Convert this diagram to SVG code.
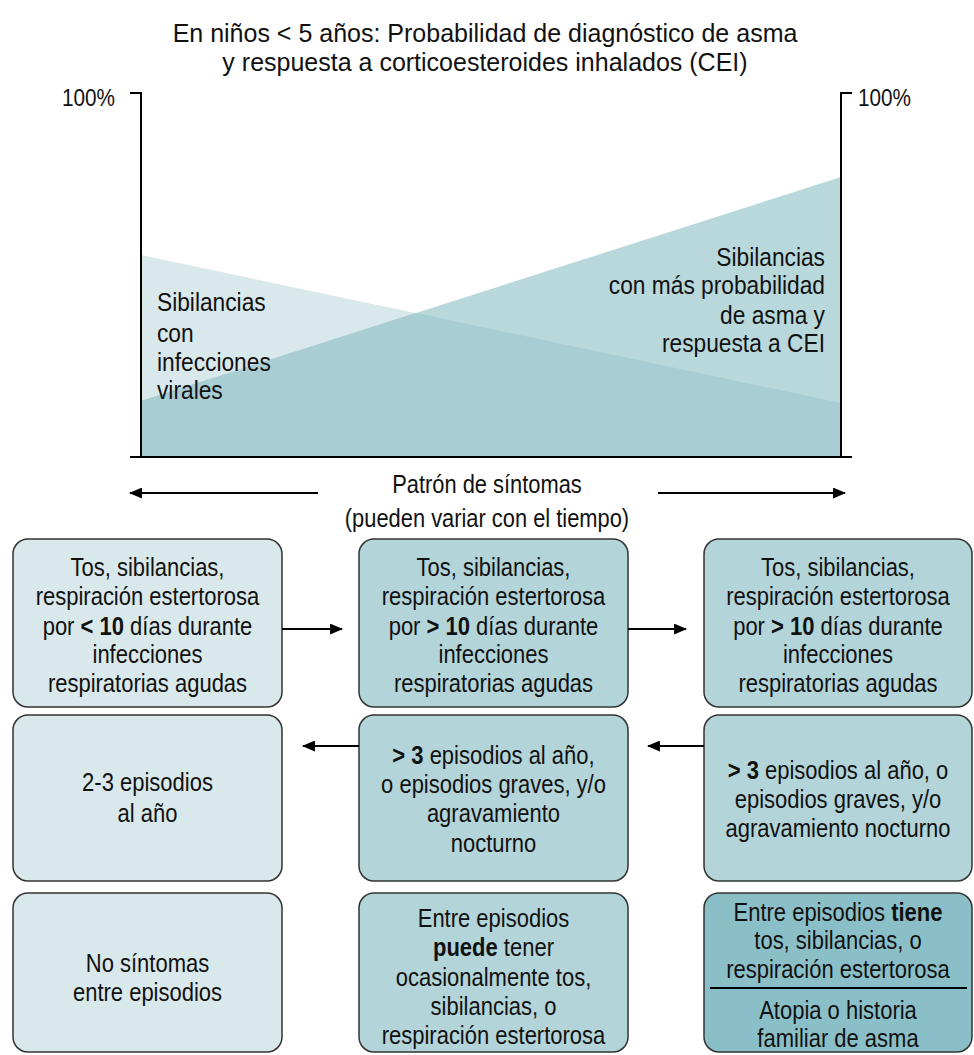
<svg xmlns="http://www.w3.org/2000/svg" width="974" height="1055" viewBox="0 0 974 1055">
<defs>
<marker id="ah" viewBox="0 0 12 10" refX="11" refY="5" markerWidth="13" markerHeight="11" markerUnits="userSpaceOnUse" orient="auto">
<path d="M0,0 L12,5 L0,10 Z" fill="#000"/>
</marker>
</defs>
<style>
text{font-family:"Liberation Sans",Arial,Helvetica,sans-serif;fill:#111;}
.tt{font-size:25px;text-anchor:middle;}
.t{font-size:25px;text-anchor:middle;}
.c{font-size:25px;}
.p{font-size:23px;}
.b{font-weight:bold;}
.box{stroke:#333;stroke-width:1.5;}
.l1{fill:#d9e8ea;}
.l2{fill:#b3d4d8;}
.l3{fill:#8bbfc8;}
.ax{stroke:#000;stroke-width:2;fill:none;}
.cn{stroke:#000;stroke-width:2;fill:none;marker-end:url(#ah);}
</style>
<rect width="974" height="1055" fill="#fff"/>
<g id="title">
<text class="tt" x="485" y="42">En niños &lt; 5 años: Probabilidad de diagnóstico de asma</text>
<text class="tt" x="485" y="71">y respuesta a corticoesteroides inhalados (CEI)</text>
</g>
<g id="chart">
<polygon points="141,255 841,403 841,457 141,457" fill="#d9e8ea"/>
<polygon points="141,401 841,177 841,457 141,457" fill="#b9d8dc"/>
<polygon points="141,457 141,401 415.7,313 841,403 841,457" fill="#a8cdd3"/>
<path class="ax" d="M130,93 H141 V457 M841,457 V93 H852 M130,457 H852"/>
<g transform="scale(0.9,1)">
<text class="p" x="68.89" y="106">100%</text>
<text class="p" x="953.33" y="106">100%</text>
</g>
<g transform="scale(0.91,1)">
<text class="c" x="172.53" y="311">Sibilancias</text>
<text class="c" x="172.53" y="342">con</text>
<text class="c" x="172.53" y="371">infecciones</text>
<text class="c" x="172.53" y="399">virales</text>
<text class="c" x="906.59" y="266" text-anchor="end">Sibilancias</text>
<text class="c" x="906.59" y="294" text-anchor="end">con más probabilidad</text>
<text class="c" x="906.59" y="324" text-anchor="end">de asma y</text>
<text class="c" x="906.59" y="352" text-anchor="end">respuesta a CEI</text>
</g>
</g>
<g id="pattern" transform="scale(0.875,1)">
<text class="c" x="556.57" y="493" text-anchor="middle">Patrón de síntomas</text>
<text class="c" x="556.57" y="527" text-anchor="middle">(pueden variar con el tiempo)</text>
</g>
<g id="n1">
<rect class="box l1" x="13" y="539" width="269" height="168" rx="15"/>
<g transform="scale(0.88,1)">
<text class="t" x="167.61" y="576">Tos, sibilancias,</text>
<text class="t" x="167.61" y="605">respiración estertorosa</text>
<text class="t" x="167.61" y="635">por <tspan class="b">&lt; 10</tspan> días durante</text>
<text class="t" x="167.61" y="663">infecciones</text>
<text class="t" x="167.61" y="692">respiratorias agudas</text>
</g>
</g>
<g id="n2">
<rect class="box l2" x="359" y="539" width="269" height="168" rx="15"/>
<g transform="scale(0.88,1)">
<text class="t" x="560.8" y="576">Tos, sibilancias,</text>
<text class="t" x="560.8" y="605">respiración estertorosa</text>
<text class="t" x="560.8" y="635">por <tspan class="b">&gt; 10</tspan> días durante</text>
<text class="t" x="560.8" y="663">infecciones</text>
<text class="t" x="560.8" y="692">respiratorias agudas</text>
</g>
</g>
<g id="n3">
<rect class="box l2" x="704" y="539" width="268" height="168" rx="15"/>
<g transform="scale(0.88,1)">
<text class="t" x="952.27" y="576">Tos, sibilancias,</text>
<text class="t" x="952.27" y="605">respiración estertorosa</text>
<text class="t" x="952.27" y="635">por <tspan class="b">&gt; 10</tspan> días durante</text>
<text class="t" x="952.27" y="663">infecciones</text>
<text class="t" x="952.27" y="692">respiratorias agudas</text>
</g>
</g>
<g id="n4">
<rect class="box l1" x="13" y="715" width="269" height="166" rx="15"/>
<g transform="scale(0.88,1)">
<text class="t" x="167.61" y="791">2-3 episodios</text>
<text class="t" x="167.61" y="822">al año</text>
</g>
</g>
<g id="n5">
<rect class="box l2" x="359" y="715" width="269" height="166" rx="15"/>
<g transform="scale(0.88,1)">
<text class="t" x="560.8" y="764"><tspan class="b">&gt; 3</tspan> episodios al año,</text>
<text class="t" x="560.8" y="793">o episodios graves, y/o</text>
<text class="t" x="560.8" y="822">agravamiento</text>
<text class="t" x="560.8" y="852">nocturno</text>
</g>
</g>
<g id="n6">
<rect class="box l2" x="704" y="715" width="268" height="166" rx="15"/>
<g transform="scale(0.88,1)">
<text class="t" x="952.27" y="779"><tspan class="b">&gt; 3</tspan> episodios al año, o</text>
<text class="t" x="952.27" y="808">episodios graves, y/o</text>
<text class="t" x="952.27" y="837">agravamiento nocturno</text>
</g>
</g>
<g id="n7">
<rect class="box l1" x="13" y="893" width="269" height="159" rx="15"/>
<g transform="scale(0.88,1)">
<text class="t" x="167.61" y="972">No síntomas</text>
<text class="t" x="167.61" y="1001">entre episodios</text>
</g>
</g>
<g id="n8">
<rect class="box l2" x="359" y="893" width="269" height="159" rx="15"/>
<g transform="scale(0.88,1)">
<text class="t" x="560.8" y="927">Entre episodios</text>
<text class="t" x="560.8" y="956"><tspan class="b">puede</tspan> tener</text>
<text class="t" x="560.8" y="986">ocasionalmente tos,</text>
<text class="t" x="560.8" y="1015">sibilancias, o</text>
<text class="t" x="560.8" y="1044">respiración estertorosa</text>
</g>
</g>
<g id="n9">
<rect class="box l3" x="704" y="893" width="268" height="159" rx="15"/>
<line x1="710" y1="988" x2="967" y2="988" stroke="#000" stroke-width="2"/>
<g transform="scale(0.88,1)">
<text class="t" x="952.27" y="921">Entre episodios <tspan class="b">tiene</tspan></text>
<text class="t" x="952.27" y="949">tos, sibilancias, o</text>
<text class="t" x="952.27" y="978">respiración estertorosa</text>
<text class="t" x="952.27" y="1019">Atopia o historia</text>
<text class="t" x="952.27" y="1047">familiar de asma</text>
</g>
</g>
<g id="connectors">
<line class="cn" x1="318" y1="493" x2="130" y2="493"/>
<line class="cn" x1="658" y1="493" x2="845" y2="493"/>
<line class="cn" x1="282" y1="629" x2="342" y2="629"/>
<line class="cn" x1="628" y1="629" x2="686" y2="629"/>
<line class="cn" x1="359" y1="746" x2="303" y2="746"/>
<line class="cn" x1="704" y1="746" x2="648" y2="746"/>
</g>
</svg>
